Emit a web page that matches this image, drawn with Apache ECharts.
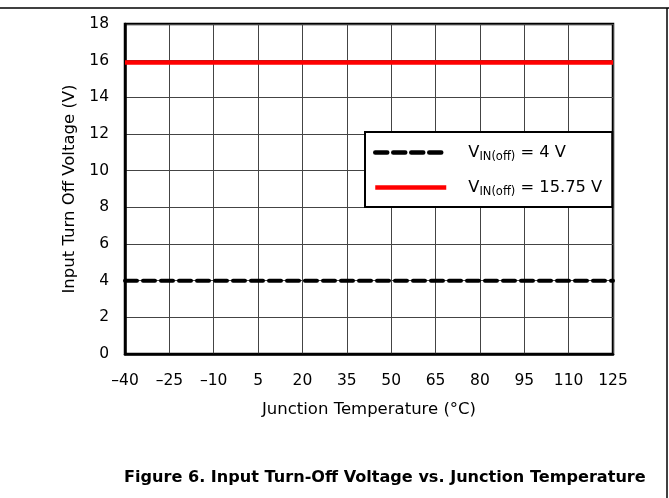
<!DOCTYPE html>
<html>
<head>
<meta charset="utf-8">
<script src="https://cdn.jsdelivr.net/npm/echarts@6/dist/echarts.min.js"></script>
<style>
html,body{margin:0;padding:0;background:#fff;}
#chart{width:669px;height:498px;}
</style>
</head>
<body>
<div id="chart"></div>
<script>
const temperatures = ['-40','-25','-10','5','20','35','50','65','80','95','110','125'];
const vinOff4 = [4,4,4,4,4,4,4,4,4,4,4,4];
const vinOff1575 = [15.9,15.9,15.9,15.9,15.9,15.9,15.9,15.9,15.9,15.9,15.9,15.9];
const seriesNames = ['VIN(off) = 4 V', 'VIN(off) = 15.75 V'];
const legendParts = [['V','IN(off)',' = 4 V'], ['V','IN(off)',' = 15.75 V']];
const yTicks = {min: 0, max: 18, interval: 2};

const font = '"DejaVu Sans", "Liberation Sans", Arial, sans-serif';
const chart = echarts.init(document.getElementById('chart'), null, {renderer: 'canvas'});
chart.setOption({
  animation: false,
  backgroundColor: '#fff',
  title: {
    text: 'Figure 6. Input Turn-Off Voltage vs. Junction Temperature',
    left: 119, top: 465,
    textStyle: {fontFamily: font, fontSize: 16.1, fontWeight: 'bold', color: '#000'}
  },
  grid: {left: 125, right: 56, top: 24, bottom: 144, show: true, borderColor: '#000', borderWidth: 2.5, backgroundColor: 'transparent'},
  xAxis: {
    type: 'category', data: temperatures, boundaryGap: false,
    name: 'Junction Temperature (°C)', nameLocation: 'middle', nameGap: 47,
    nameTextStyle: {fontFamily: font, fontSize: 16.5, color: '#000'},
    axisLine: {lineStyle: {color: '#000', width: 2.5}},
    axisTick: {show: false},
    axisLabel: {fontFamily: font, fontSize: 15.5, color: '#000', margin: 19, interval: 0,
      formatter: v => v.replace('-', '\u2013')},
    splitLine: {show: true, interval: 0, lineStyle: {color: '#444', width: 1}}
  },
  yAxis: {
    type: 'value', min: yTicks.min, max: yTicks.max, interval: yTicks.interval,
    name: 'Input Turn Off Voltage (V)', nameLocation: 'middle', nameGap: 43,
    nameTextStyle: {fontFamily: font, fontSize: 16.5, color: '#000'},
    axisLine: {show: true, lineStyle: {color: '#000', width: 2.5}},
    axisTick: {show: false},
    axisLabel: {fontFamily: font, fontSize: 15.5, color: '#000', margin: 16},
    splitLine: {show: true, lineStyle: {color: '#444', width: 1}}
  },
  legend: {
    orient: 'vertical', left: 365, top: 132,
    data: seriesNames,
    backgroundColor: '#fff', borderColor: '#000', borderWidth: 2,
    padding: [10, 10, 9, 8], itemGap: 14, itemWidth: 71, itemHeight: 18,
    itemStyle: {opacity: 0},
    lineStyle: {width: 4.5},
    formatter: function (name) {
      const p = legendParts[seriesNames.indexOf(name)];
      return '{sp|}{n|' + p[0] + '}{s|' + p[1] + '}{n|' + p[2] + '}';
    },
    textStyle: {
      fontFamily: font, color: '#000',
      rich: {
        sp: {width: 17},
        n: {fontFamily: font, fontSize: 16.3, color: '#000', lineHeight: 18},
        s: {fontFamily: font, fontSize: 11.5, color: '#000', padding: [9, 0, 0, 0], lineHeight: 18}
      }
    }
  },
  series: [
    {name: seriesNames[0], type: 'line', data: vinOff4, symbol: 'none',
     lineStyle: {color: '#000', width: 4, type: [12, 6], cap: 'round'}, itemStyle: {color: '#000'}, z: 3},
    {name: seriesNames[1], type: 'line', data: vinOff1575, symbol: 'none',
     lineStyle: {color: '#ff0000', width: 4.5}, itemStyle: {color: '#ff0000'}, z: 3}
  ],
  graphic: [
    {type: 'line', shape: {x1: 0, y1: 8, x2: 669, y2: 8}, style: {stroke: '#000', lineWidth: 1.5}},
    {type: 'line', shape: {x1: 667, y1: 8, x2: 667, y2: 498}, style: {stroke: '#000', lineWidth: 1.5}}
  ]
});
</script>
</body>
</html>
